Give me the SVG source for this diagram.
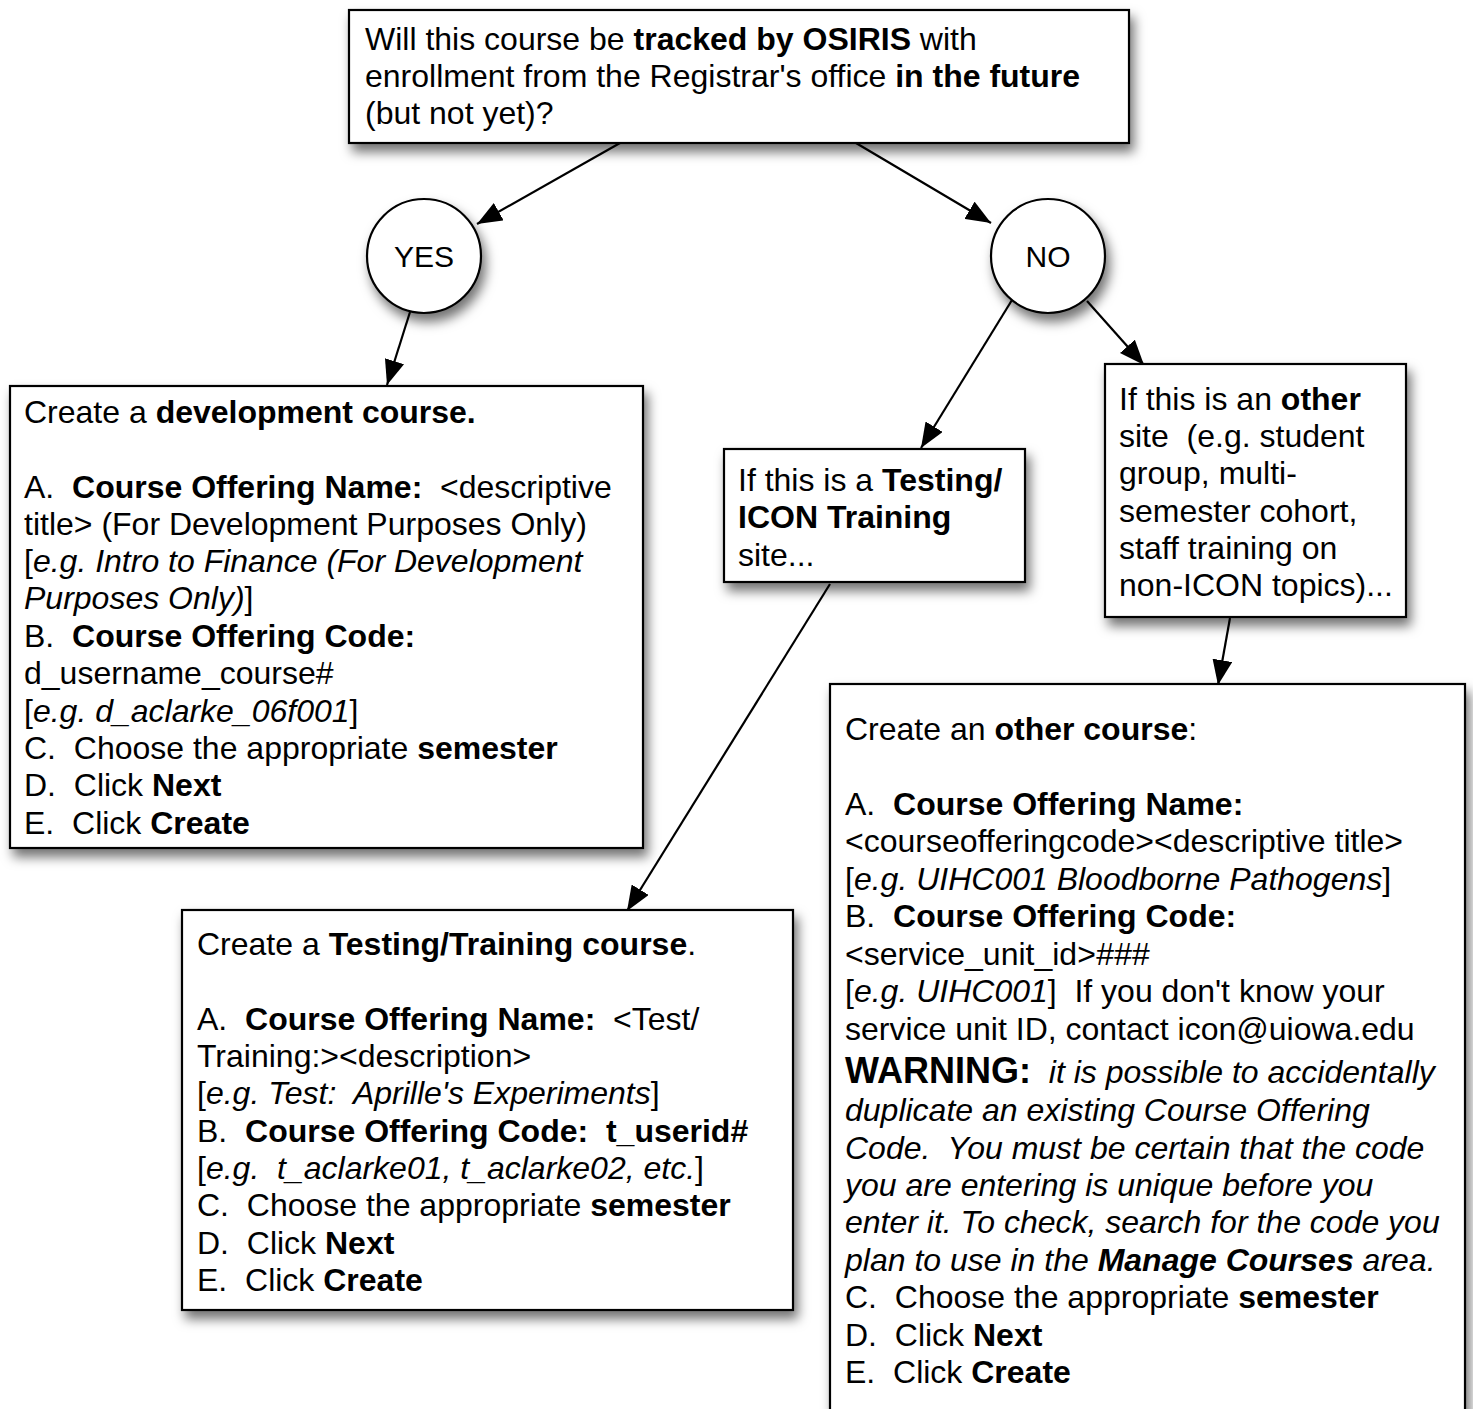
<svg xmlns="http://www.w3.org/2000/svg" width="1473" height="1409" viewBox="0 0 1473 1409">
<defs>
<filter id="sh" x="-10%" y="-10%" width="130%" height="130%">
<feDropShadow dx="4" dy="8" stdDeviation="6" flood-color="#000" flood-opacity="0.55"/>
</filter>
<marker id="ah" viewBox="0 0 25 20" refX="25" refY="10" markerWidth="25" markerHeight="20" markerUnits="userSpaceOnUse" orient="auto">
<path d="M0,0 L25,10 L0,20 z" fill="#000"/>
</marker>
<style>
.box{fill:#fff;stroke:#000;stroke-width:2.2;filter:url(#sh)}
text{font-family:"Liberation Sans",Arial,Helvetica,sans-serif;font-size:32px;fill:#000;white-space:pre}
.b{font-weight:bold}
.i{font-style:italic}
.w{font-size:36px;font-weight:bold;font-style:normal}
.c{font-size:30px}
.conn line{stroke:#000;stroke-width:2.2;marker-end:url(#ah)}
</style>
</defs>
<rect width="1473" height="1409" fill="#fff"/>

<g class="conn" id="connectors">
<line x1="620" y1="143" x2="477" y2="224"/>
<line x1="856" y1="143" x2="991" y2="223"/>
<line x1="410" y1="312" x2="387" y2="385"/>
<line x1="1012" y1="300" x2="921" y2="448"/>
<line x1="1087" y1="301" x2="1144" y2="365"/>
<line x1="830" y1="584" x2="627" y2="911"/>
<line x1="1230" y1="618" x2="1218" y2="685"/>
</g>

<g id="question">
<rect class="box" x="349" y="10" width="780" height="133"/>
<text x="365" y="50">Will this course be <tspan class="b">tracked by OSIRIS</tspan> with</text>
<text x="365" y="87">enrollment from the Registrar's office <tspan class="b">in the future</tspan></text>
<text x="365" y="124">(but not yet)?</text>
</g>

<g id="yes">
<circle cx="424" cy="256" r="57" fill="#fff" stroke="#000" stroke-width="2.2" filter="url(#sh)"/>
<text class="c" x="424" y="267" text-anchor="middle">YES</text>
</g>

<g id="no">
<circle cx="1048" cy="256" r="57" fill="#fff" stroke="#000" stroke-width="2.2" filter="url(#sh)"/>
<text class="c" x="1048" y="267" text-anchor="middle">NO</text>
</g>

<g id="dev-course">
<rect class="box" x="10" y="386" width="633" height="462"/>
<text x="24" y="423">Create a <tspan class="b">development course.</tspan></text>
<text x="24" y="498">A.  <tspan class="b">Course Offering Name:</tspan>  &lt;descriptive</text>
<text x="24" y="535">title&gt; (For Development Purposes Only)</text>
<text x="24" y="572">[<tspan class="i">e.g. Intro to Finance (For Development</tspan></text>
<text x="24" y="609"><tspan class="i">Purposes Only)</tspan>]</text>
<text x="24" y="647">B.  <tspan class="b">Course Offering Code:</tspan></text>
<text x="24" y="684">d_username_course#</text>
<text x="24" y="722">[<tspan class="i">e.g. d_aclarke_06f001</tspan>]</text>
<text x="24" y="759">C.  Choose the appropriate <tspan class="b">semester</tspan></text>
<text x="24" y="796">D.  Click <tspan class="b">Next</tspan></text>
<text x="24" y="834">E.  Click <tspan class="b">Create</tspan></text>
</g>

<g id="testing-site">
<rect class="box" x="724" y="449" width="301" height="133"/>
<text x="738" y="491">If this is a <tspan class="b">Testing/</tspan></text>
<text x="738" y="528"><tspan class="b">ICON Training</tspan></text>
<text x="738" y="566">site...</text>
</g>

<g id="other-site">
<rect class="box" x="1105" y="364" width="301" height="253"/>
<text x="1119" y="410">If this is an <tspan class="b">other</tspan></text>
<text x="1119" y="447">site  (e.g. student</text>
<text x="1119" y="484">group, multi-</text>
<text x="1119" y="522">semester cohort,</text>
<text x="1119" y="559">staff training on</text>
<text x="1119" y="596">non-ICON topics)...</text>
</g>

<g id="testing-course">
<rect class="box" x="182" y="910" width="611" height="400"/>
<text x="197" y="955">Create a <tspan class="b">Testing/Training course</tspan>.</text>
<text x="197" y="1030">A.  <tspan class="b">Course Offering Name:</tspan>  &lt;Test/</text>
<text x="197" y="1067">Training:&gt;&lt;description&gt;</text>
<text x="197" y="1104">[<tspan class="i">e.g. Test:  Aprille's Experiments</tspan>]</text>
<text x="197" y="1142">B.  <tspan class="b">Course Offering Code:  t_userid#</tspan></text>
<text x="197" y="1179">[<tspan class="i">e.g.  t_aclarke01, t_aclarke02, etc.</tspan>]</text>
<text x="197" y="1216">C.  Choose the appropriate <tspan class="b">semester</tspan></text>
<text x="197" y="1254">D.  Click <tspan class="b">Next</tspan></text>
<text x="197" y="1291">E.  Click <tspan class="b">Create</tspan></text>
</g>

<g id="other-course">
<rect class="box" x="830" y="684" width="635" height="760"/>
<text x="845" y="740">Create an <tspan class="b">other course</tspan>:</text>
<text x="845" y="815">A.  <tspan class="b">Course Offering Name:</tspan></text>
<text x="845" y="852">&lt;courseofferingcode&gt;&lt;descriptive title&gt;</text>
<text x="845" y="890">[<tspan class="i">e.g. UIHC001 Bloodborne Pathogens</tspan>]</text>
<text x="845" y="927">B.  <tspan class="b">Course Offering Code:</tspan></text>
<text x="845" y="965">&lt;service_unit_id&gt;<tspan class="i">###</tspan></text>
<text x="845" y="1002">[<tspan class="i">e.g. UIHC001</tspan>]  If you don't know your</text>
<text x="845" y="1040">service unit ID, contact icon@uiowa.edu</text>
<text x="845" y="1083"><tspan class="w">WARNING:</tspan><tspan class="i">  it is possible to accidentally</tspan></text>
<text x="845" y="1121" class="i">duplicate an existing Course Offering</text>
<text x="845" y="1159" class="i">Code.  You must be certain that the code</text>
<text x="845" y="1196" class="i">you are entering is unique before you</text>
<text x="845" y="1233" class="i">enter it. To check, search for the code you</text>
<text x="845" y="1271" class="i">plan to use in the <tspan class="b">Manage Courses</tspan> area.</text>
<text x="845" y="1308">C.  Choose the appropriate <tspan class="b">semester</tspan></text>
<text x="845" y="1346">D.  Click <tspan class="b">Next</tspan></text>
<text x="845" y="1383">E.  Click <tspan class="b">Create</tspan></text>
</g>
</svg>
